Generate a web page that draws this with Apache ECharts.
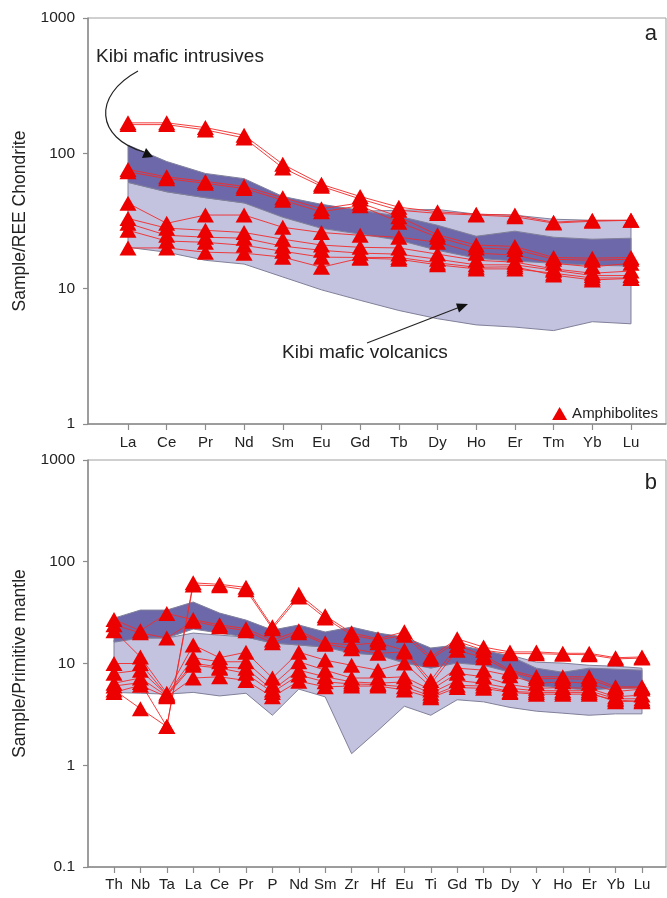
<!DOCTYPE html>
<html>
<head>
<meta charset="utf-8">
<script src="https://cdn.jsdelivr.net/npm/echarts@6/dist/echarts.min.js"></script>
<style>
  html, body { margin: 0; padding: 0; background: #fff; }
  #chart { width: 667px; height: 898px; }
</style>
</head>
<body>
<div id="chart"></div>
<script>
// categories
var reeCats = ['La', 'Ce', 'Pr', 'Nd', 'Sm', 'Eu', 'Gd', 'Tb', 'Dy', 'Ho', 'Er', 'Tm', 'Yb', 'Lu'];
var pmCats = ['Th', 'Nb', 'Ta', 'La', 'Ce', 'Pr', 'P', 'Nd', 'Sm', 'Zr', 'Hf', 'Eu', 'Ti', 'Gd', 'Tb', 'Dy', 'Y', 'Ho', 'Er', 'Yb', 'Lu'];

// (a) chondrite normalised fields
var reeVolcLow  = [20.2, 18.6, 16.2, 15.2, 12.2, 9.8, 8.2, 6.9, 6.0, 5.4, 5.2, 4.9, 5.7, 5.5];
var reeVolcHigh = [61, 52, 47, 43, 38, 36.7, 37.3, 38, 38.5, 35.5, 34.9, 32.6, 32, 32];
var reeIntrLow  = [61, 52, 47, 43, 33.7, 27.9, 25.3, 22.8, 19.2, 16.8, 16, 15.4, 14.9, 14.7];
var reeIntrHigh = [115, 87, 71, 65, 48, 42, 38, 34.3, 29.4, 24.4, 26.6, 24, 23.2, 23.6];

// (a) amphibolite samples
var reeA1 = [168, 168, 155, 136, 83, 59, 48, 40, 37, 35.5, 35, 31, 32, 32];
var reeA2 = [163, 163, 149, 130, 78, 57, 46, 38, 36, 35, 34, 30.5, 31.5, 32];
var reeB1 = [76, 67, 62, 57, 47, 39, 43, 34, 25, 21, 20.5, 17, 16.8, 17];
var reeB2 = [73, 65, 60, 55, 45, 37, 41, 31, 24, 20, 19.5, 16.5, 16.2, 16.5];
var reeC1 = [42.8, 30.4, 35, 35, 28.4, 26, 24.8, 24, 22, 18.3, 17.7, 15.4, 14.5, 15.4];
var reeC2 = [33, 28, 27, 26, 23.2, 21, 20.2, 20, 18, 16.2, 15.7, 14, 13, 13.5];
var reeC3 = [30.4, 24.8, 24, 23.6, 20.6, 19.2, 18.3, 18, 16.5, 15, 15, 13.7, 12.5, 12.5];
var reeC4 = [27, 22.5, 22, 20.9, 18.9, 17.1, 17, 17, 15.5, 14.4, 14.5, 12.6, 11.6, 11.9];
var reeC5 = [20, 20, 18.6, 18.3, 17.1, 14.4, 16.8, 16.5, 15, 14, 14, 13, 12, 12];

// (b) primitive mantle normalised fields
var pmVolcLow  = [5.2, 5.1, 5.0, 5.2, 4.8, 5.1, 3.1, 5.6, 4.7, 1.3, 2.2, 3.8, 3.1, 4.4, 4.2, 3.7, 3.4, 3.25, 3.1, 3.2, 3.2];
var pmVolcHigh = [17.0, 17.8, 17.8, 19.9, 19.0, 18.2, 15.9, 15.2, 14.5, 13.5, 12.9, 12.1, 10.8, 13.5, 12.9, 12.1, 10.3, 10.1, 9.6, 9.4, 9.0];
var pmIntrLow  = [16.2, 17.8, 17.8, 21.8, 19.9, 18.2, 15.9, 15.2, 14.5, 12.6, 12.1, 10.1, 9.0, 10.1, 9.6, 8.2, 6.1, 5.7, 5.5, 5.7, 5.7];
var pmIntrHigh = [27.9, 33.5, 33.5, 40.2, 31.3, 26.7, 21.3, 23.9, 20.4, 22.8, 19.9, 18.2, 14.2, 15.2, 13.5, 11.8, 9.0, 8.2, 9.0, 8.8, 8.6];

// (b) amphibolite samples
var pmA1 = [5.5, 3.6, 2.4, 62, 60, 56, 23, 48, 29.5, 20, 17.5, 20.5, 11.6, 17.5, 14.5, 13, 13, 12.6, 12.6, 11.4, 11.6];
var pmA2 = [6.0, 6.5, 2.4, 59, 58, 53, 22, 45, 28, 19, 17, 19, 11, 16.5, 13.5, 12.5, 12.5, 12.3, 12.2, 11.1, 11.3];
var pmB1 = [27, 21, 31, 27, 24, 22, 17, 21, 16, 15.2, 16, 13.5, 6.8, 15, 12.1, 8.6, 7.4, 7.4, 7.4, 5.9, 5.9];
var pmB2 = [24, 20, 17.8, 26, 23, 21, 16, 20, 15.5, 14, 12.6, 13, 6.3, 13.5, 11.4, 8.3, 7.1, 7.1, 7.0, 5.7, 5.8];
var pmC1 = [21, 11.6, 5.1, 15.2, 11.4, 12.9, 7.2, 12.9, 10.8, 9.6, 8.6, 10.1, 5.9, 9.0, 8.6, 7.6, 6.4, 6.6, 6.4, 5.3, 5.6];
var pmC2 = [10, 10, 4.9, 11.4, 10.4, 10.4, 6.1, 10.4, 8.6, 7.2, 7.2, 7.4, 5.5, 8.0, 7.4, 6.2, 5.7, 5.8, 5.7, 4.7, 4.9];
var pmC3 = [8, 8.6, 4.9, 10.1, 9.2, 9.0, 5.5, 8.6, 7.4, 6.6, 6.4, 6.6, 5.1, 6.8, 6.4, 5.7, 5.4, 5.4, 5.4, 4.5, 4.5];
var pmC4 = [6.4, 7.2, 4.8, 9.6, 9.0, 8.0, 5.2, 7.7, 6.6, 6.3, 6.2, 5.9, 4.8, 6.1, 6.0, 5.3, 5.2, 5.2, 5.2, 4.2, 4.3];
var pmC5 = [5.2, 6.1, 4.7, 7.2, 7.4, 6.8, 4.7, 6.7, 5.9, 6.0, 6.0, 5.5, 4.6, 5.8, 5.7, 5.2, 5.0, 5.0, 5.0, 4.4, 4.2];

var reeSamples = [reeA1, reeA2, reeB1, reeB2, reeC1, reeC2, reeC3, reeC4, reeC5];
var pmSamples = [pmA1, pmA2, pmB1, pmB2, pmC1, pmC2, pmC3, pmC4, pmC5];

var FONT = 'Liberation Sans, Arial, sans-serif';
var AXIS_COLOR = '#8c8c8c';
var LIGHT_FIELD = '#c3c2df';
var DARK_FIELD = '#6d68a9';

function fieldSeries(idx, lower, upper, color, z) {
  return {
    type: 'custom',
    xAxisIndex: idx,
    yAxisIndex: idx,
    silent: true,
    z: z,
    data: [[0, lower[0]]],
    renderItem: function(params, api) {
      var pts = [];
      upper.forEach(function(v, i) { pts.push(api.coord([i, v])); });
      for (var i = lower.length - 1; i >= 0; i--) {
        pts.push(api.coord([i, lower[i]]));
      }
      return {
        type: 'polygon',
        shape: { points: pts },
        style: { fill: color, stroke: '#80809a', lineWidth: 1 }
      };
    }
  };
}

function sampleSeries(idx, values) {
  return {
    name: 'Amphibolites',
    type: 'line',
    xAxisIndex: idx,
    yAxisIndex: idx,
    z: 5,
    symbol: 'triangle',
    symbolSize: [17, 15],
    itemStyle: { color: '#ec0000' },
    lineStyle: { color: '#f22a2a', width: 1, opacity: 0.9 },
    data: values.map(function(v, i) { return [i, v]; })
  };
}

function xAxis(idx, cats, min, max, margin) {
  var ticks = cats.map(function(c, i) { return i; });
  return {
    type: 'value',
    gridIndex: idx,
    min: min,
    max: max,
    axisLine: { show: true, onZero: false, lineStyle: { color: AXIS_COLOR, width: 1.5 } },
    axisTick: { show: true, length: 6, customValues: ticks, lineStyle: { color: AXIS_COLOR, width: 1.2 } },
    axisLabel: {
      customValues: ticks,
      margin: margin,
      fontSize: 15,
      fontFamily: FONT,
      color: '#222',
      formatter: function(v) { return cats[Math.round(v)]; }
    },
    splitLine: { show: false }
  };
}

function yAxis(idx, min, name) {
  return {
    type: 'log',
    logBase: 10,
    gridIndex: idx,
    min: min,
    max: 1000,
    name: name,
    nameLocation: 'middle',
    nameGap: 58,
    nameTextStyle: { fontSize: 17.5, fontFamily: FONT, color: '#222' },
    axisLine: { show: true, onZero: false, lineStyle: { color: AXIS_COLOR, width: 1.5 } },
    axisTick: { show: true, length: 5, lineStyle: { color: AXIS_COLOR, width: 1.2 } },
    axisLabel: {
      fontSize: 15.5, fontFamily: FONT, color: '#222', margin: 13,
      formatter: function(v) { return String(v); }
    },
    splitLine: { show: false },
    minorTick: { show: false }
  };
}

var chart = echarts.init(document.getElementById('chart'));

var series = [
  fieldSeries(0, reeVolcLow, reeVolcHigh, LIGHT_FIELD, 1),
  fieldSeries(0, reeIntrLow, reeIntrHigh, DARK_FIELD, 2),
  fieldSeries(1, pmVolcLow, pmVolcHigh, LIGHT_FIELD, 1),
  fieldSeries(1, pmIntrLow, pmIntrHigh, DARK_FIELD, 2)
];
reeSamples.forEach(function(s) { series.push(sampleSeries(0, s)); });
pmSamples.forEach(function(s) { series.push(sampleSeries(1, s)); });

var option = {
  animation: false,
  backgroundColor: '#fff',
  textStyle: { fontFamily: FONT },
  title: [
    { text: 'a', right: 5, top: 18, textStyle: { fontSize: 22, fontWeight: 'normal', color: '#222', fontFamily: FONT } },
    { text: 'b', right: 5, top: 467, textStyle: { fontSize: 22, fontWeight: 'normal', color: '#222', fontFamily: FONT } }
  ],
  legend: {
    data: [{ name: 'Amphibolites', icon: 'triangle' }],
    right: 4,
    top: 401,
    itemWidth: 15,
    itemHeight: 13,
    textStyle: { fontSize: 15, color: '#222', fontFamily: FONT }
  },
  grid: [
    { left: 88, top: 18, width: 578, height: 406, show: true, borderColor: '#a0a0a0', borderWidth: 1 },
    { left: 88, top: 460, width: 578, height: 407, show: true, borderColor: '#a0a0a0', borderWidth: 1 }
  ],
  xAxis: [
    xAxis(0, reeCats, -1.034, 13.905, 11),
    xAxis(1, pmCats, -0.985, 20.91, 10)
  ],
  yAxis: [
    yAxis(0, 1, 'Sample/REE Chondrite'),
    yAxis(1, 0.1, 'Sample/Primitive mantle')
  ],
  series: series,
  graphic: [
    { type: 'text', z: 20, style: { text: 'Kibi mafic intrusives', x: 96, y: 57, verticalAlign: 'middle', font: '19px ' + FONT, fill: '#222' } },
    { type: 'bezierCurve', z: 20, shape: { x1: 138, y1: 71, cpx1: 92, cpy1: 96, cpx2: 96, cpy2: 138, x2: 144, y2: 152 }, style: { stroke: '#222', lineWidth: 1.2, fill: null } },
    { type: 'polygon', z: 20, shape: { points: [[153, 157], [142, 158], [146, 148]] }, style: { fill: '#111' } },
    { type: 'text', z: 20, style: { text: 'Kibi mafic volcanics', x: 282, y: 353, verticalAlign: 'middle', font: '19px ' + FONT, fill: '#222' } },
    { type: 'line', z: 20, shape: { x1: 367, y1: 343, x2: 460, y2: 307 }, style: { stroke: '#222', lineWidth: 1.2 } },
    { type: 'polygon', z: 20, shape: { points: [[468, 304], [459, 312.5], [456, 303.5]] }, style: { fill: '#111' } }
  ]
};

chart.setOption(option);
</script>
</body>
</html>
